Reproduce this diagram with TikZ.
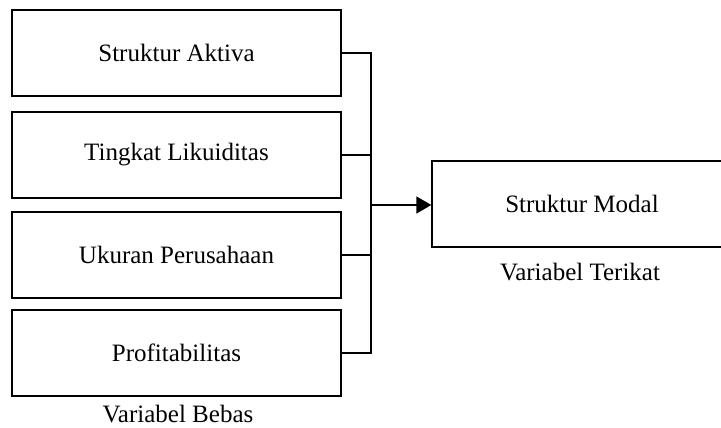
\documentclass[tikz,border=0pt]{standalone}
\usepackage{fontspec}
\setmainfont{Liberation Serif}
\usetikzlibrary{arrows.meta}

\begin{document}
\begin{tikzpicture}[x=1pt,y=-1pt,
    varbox/.style={draw, line width=1.3pt, minimum width=329pt, minimum height=86pt, inner sep=0pt, font=\fontsize{25}{30}\selectfont},
    lbl/.style={font=\fontsize{25}{30}\selectfont},
    conn/.style={line width=1.3pt}]
  \useasboundingbox (0,0) rectangle (721,428);
  \clip (0,0) rectangle (721,428);
  \node[varbox] (aktiva) at (176.5,53) {Struktur Aktiva};
  \node[varbox] (likuid) at (176.5,155) {Tingkat Likuiditas};
  \node[varbox] (ukuran) at (176.5,255) {Ukuran Perusahaan};
  \node[varbox] (profit) at (176.5,353) {Profitabilitas};
  \node[varbox, minimum width=300pt] (modal) at (582,204) {Struktur Modal};
  \node[lbl] (bebas) at (178,414) {Variabel Bebas};
  \node[lbl] (terikat) at (580,272) {Variabel Terikat};
  \coordinate (bus) at (371,205);
  \draw[conn] (aktiva.east) -| (bus |- profit.east) -- (profit.east);
  \draw[conn] (likuid.east) -- (likuid.east -| bus);
  \draw[conn] (ukuran.east) -- (ukuran.east -| bus);
  \draw[conn, -{Triangle[length=15pt, width=17pt]}] (bus) -- (modal.west |- bus);
\end{tikzpicture}
\end{document}
